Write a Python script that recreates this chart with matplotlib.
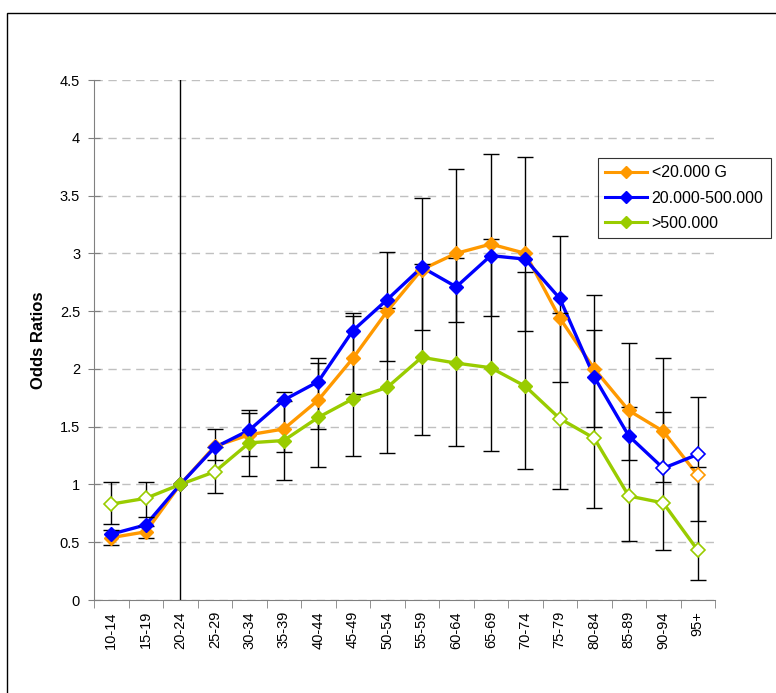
import matplotlib
matplotlib.use("Agg")
import matplotlib.pyplot as plt
from matplotlib.patches import Rectangle
import numpy as np

plt.rcParams['font.family'] = ['Liberation Sans', 'DejaVu Sans']

# Age groups and odds ratios per income class
age_groups = ['10-14', '15-19', '20-24', '25-29', '30-34', '35-39', '40-44',
              '45-49', '50-54', '55-59', '60-64', '65-69', '70-74', '75-79',
              '80-84', '85-89', '90-94', '95+']

low_or = [0.54, 0.59, 1.00, 1.33, 1.43, 1.48, 1.73, 2.09, 2.50, 2.86,
          3.00, 3.08, 3.00, 2.44, 2.00, 1.64, 1.46, 1.08]
mid_or = [0.57, 0.65, 1.00, 1.32, 1.47, 1.73, 1.89, 2.33, 2.60, 2.88,
          2.71, 2.98, 2.95, 2.61, 1.93, 1.42, 1.14, 1.26]
high_or = [0.83, 0.88, 1.00, 1.11, 1.36, 1.38, 1.58, 1.74, 1.84, 2.10,
           2.05, 2.01, 1.85, 1.57, 1.40, 0.90, 0.84, 0.43]

# 95% confidence limits (reference group 20-24 has none)
low_lo = [0.48, 0.54, np.nan, 1.21, 1.25, 1.28, 1.48, 1.78, 2.07, 2.34,
          2.41, 2.46, 2.33, 1.89, 1.50, 1.21, 1.02, 0.68]
low_hi = [0.61, 0.64, np.nan, 1.48, 1.64, 1.72, 2.05, 2.46, 3.01, 3.48,
          3.73, 3.86, 3.83, 3.15, 2.64, 2.22, 2.09, 1.76]
high_lo = [0.66, 0.72, np.nan, 0.93, 1.07, 1.04, 1.15, 1.25, 1.27, 1.43,
           1.33, 1.29, 1.13, 0.96, 0.80, 0.51, 0.43, 0.17]
high_hi = [1.02, 1.02, np.nan, 1.32, 1.62, 1.80, 2.09, 2.48, 2.53, 2.91,
           2.96, 3.12, 2.84, 2.48, 2.34, 1.67, 1.63, 1.15]

# non-significant estimates drawn with hollow markers
low_open = [False] * 17 + [True]
mid_open = [False] * 16 + [True, True]
high_open = [True, True, False, True, False, False, False, False, False,
             False, False, False, False, True, True, True, True, True]

labels = ['<20.000 G', '20.000-500.000', '>500.000']
colors = ['#FF9900', '#0000FF', '#99CC00']

fig = plt.figure(figsize=(7.76, 6.93), dpi=100)
ax = fig.add_axes([94 / 776, 93 / 693, 621 / 776, 520 / 693])

x = np.arange(len(age_groups))

# error bars for the lowest and highest income classes
for vals, lo, hi in [(low_or, low_lo, low_hi), (high_or, high_lo, high_hi)]:
    vals = np.array(vals)
    err = np.vstack([vals - np.array(lo), np.array(hi) - vals])
    ax.errorbar(x, vals, yerr=err, fmt='none', ecolor='black', elinewidth=1,
                capsize=6, capthick=1, zorder=3)

series = [(low_or, low_open), (mid_or, mid_open), (high_or, high_open)]
for (vals, hollow), lab, col in zip(series, labels, colors):
    vals = np.array(vals)
    hollow = np.array(hollow)
    ax.plot(x, vals, color=col, lw=2.4, zorder=2)
    ax.plot(x[~hollow], vals[~hollow], ls='none', marker='D', ms=7.5,
            mfc=col, mec=col, zorder=4)
    ax.plot(x[hollow], vals[hollow], ls='none', marker='D', ms=7,
            mfc='white', mec=col, mew=1.2, zorder=4)
    ax.plot([], [], color=col, lw=2.2, marker='D', ms=6, label=lab)

# reference category marker line
ax.axvline(2, color='black', lw=1, zorder=1)

ax.set_xlim(-0.5, len(age_groups) - 0.5)
ax.set_ylim(0, 4.5)
ax.set_yticks(np.arange(0, 4.51, 0.5))
ax.set_yticklabels(['0', '0.5', '1', '1.5', '2', '2.5', '3', '3.5', '4', '4.5'])
ax.yaxis.grid(True, color='#C0C0C0', ls=(0, (6, 4)), lw=1)
ax.set_axisbelow(True)

ax.set_xticks(x)
ax.set_xticklabels(age_groups, rotation=90)
ax.set_xticks(np.arange(-0.5, len(age_groups)), minor=True)
ax.tick_params(axis='x', which='major', length=0, labelsize=10.5, pad=8)
ax.tick_params(axis='x', which='minor', length=6, color='#808080', direction='out')
ax.tick_params(axis='y', length=8, direction='inout', color='#808080',
               labelsize=10.5, pad=6)

for side in ['top', 'right']:
    ax.spines[side].set_visible(False)
ax.spines['left'].set_color('#808080')
ax.spines['bottom'].set_color('#808080')

ax.set_ylabel('Odds Ratios', fontsize=12, fontweight='bold', labelpad=10)

leg = ax.legend(loc='upper left', bbox_to_anchor=(598 / 776, 1 - 158 / 693),
                bbox_transform=fig.transFigure, fontsize=11.5, frameon=True,
                fancybox=False, edgecolor='black', borderaxespad=0,
                handlelength=2.6, handletextpad=0.3, borderpad=0.45,
                labelspacing=0.65)
leg.get_frame().set_linewidth(0.8)

# outer chart border
fig.patches.append(Rectangle((7 / 776, -0.1), 1.0, 1 - 13 / 693 + 0.1,
                             transform=fig.transFigure, fill=False,
                             edgecolor='black', lw=1))

fig.savefig('out.png', dpi=100)
